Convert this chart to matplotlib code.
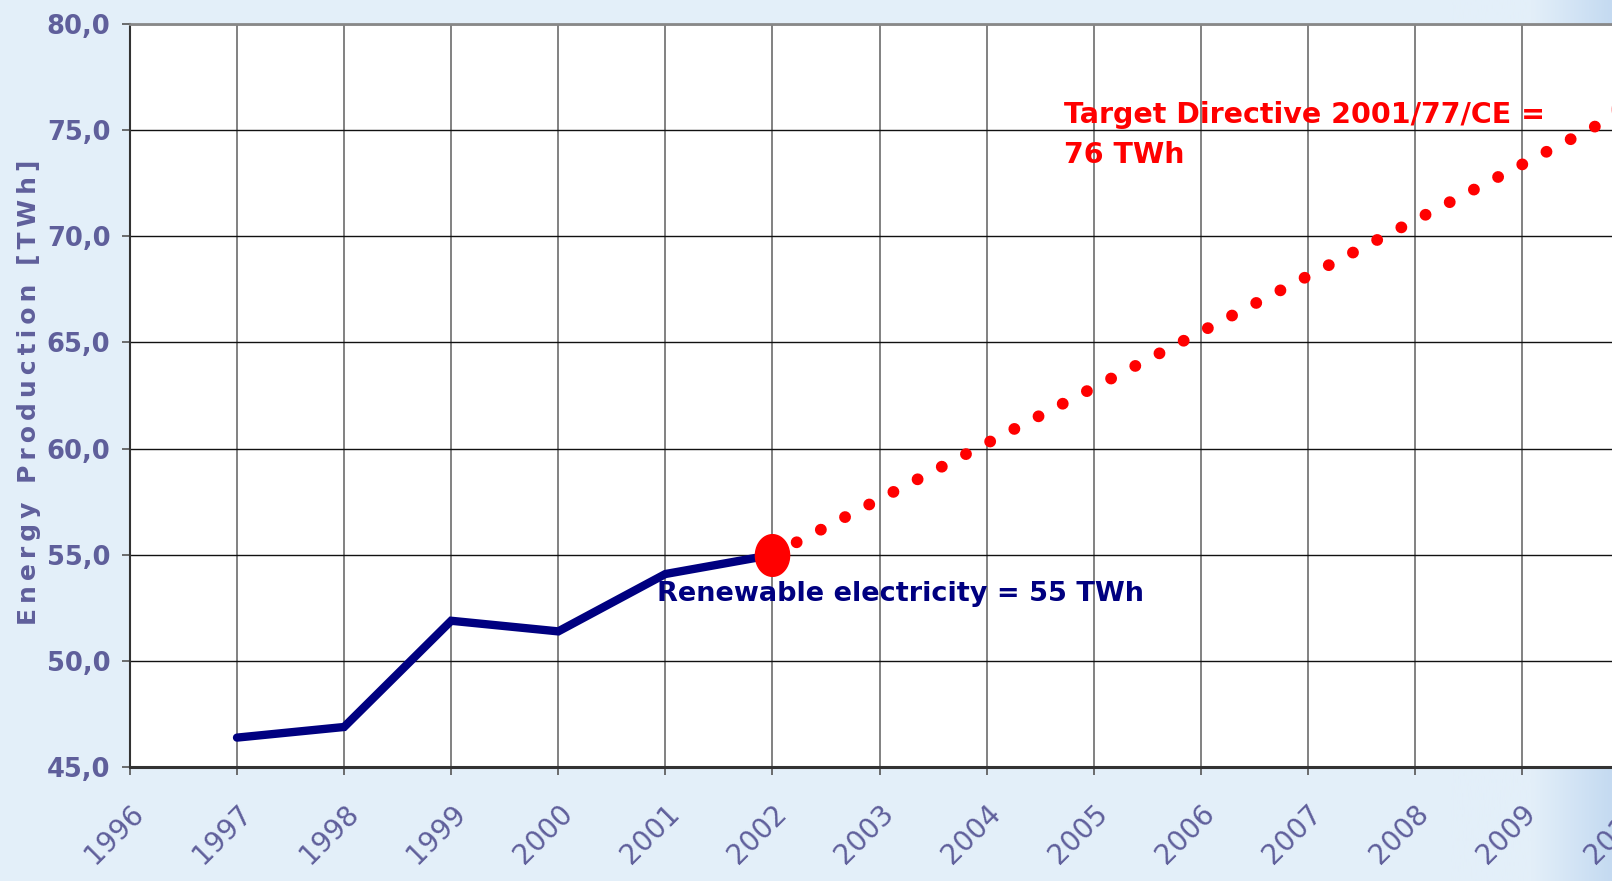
from matplotlib import pyplot as plt
from matplotlib.path import Path
from matplotlib.colors import LinearSegmentedColormap
import numpy as np

# measured series (TWh)
years = [1997, 1998, 1999, 2000, 2001, 2002]
production = [46.4, 46.9, 51.9, 51.4, 54.1, 55.0]

# target path: from last measured value to the directive target
target_years = [2002, 2010]
target_values = [55.0, 76.0]

x_ticks = list(range(1996, 2011))
y_ticks = [45, 50, 55, 60, 65, 70, 75, 80]

label_color = '#5f5f9b'
navy = '#000080'
red = '#ff0000'
bg = '#e3eff9'


def main():
    fig = plt.figure(figsize=(16.12, 8.81), dpi=100)
    fig.patch.set_facecolor(bg)

    # soft blue fade on the right edge of the slide background
    gax = fig.add_axes([0.9, 0, 0.1, 1], zorder=-1)
    cmap = LinearSegmentedColormap.from_list('fade', [bg, bg, '#c4daf1'])
    gax.imshow(np.linspace(0, 1, 100)[None, :], aspect='auto', cmap=cmap,
               extent=[0, 1, 0, 1])
    gax.axis('off')

    # axes run past the right edge, as in the cropped original
    ax = fig.add_axes([0.0806, 0.129, 0.93, 0.844])
    ax.set_facecolor('white')

    ax.set_xlim(1996, 2010)
    ax.set_ylim(45, 80)

    ax.set_xticks(x_ticks)
    ax.set_xticklabels([str(y) for y in x_ticks], rotation=45, ha='right',
                       rotation_mode='anchor', fontsize=20, color=label_color)
    ax.set_yticks(y_ticks)
    ax.set_yticklabels([('%.1f' % v).replace('.', ',') for v in y_ticks],
                       fontsize=18.5, fontweight='bold', color=label_color)
    ax.yaxis.set_tick_params(pad=8)
    ax.xaxis.set_tick_params(pad=17)

    ax.tick_params(axis='both', direction='out', length=6, width=1.2, color='#555555')

    # grid: grey verticals, black horizontals
    ax.grid(axis='x', color='#777777', linewidth=1.3)
    ax.grid(axis='y', color='#111111', linewidth=1.0)
    ax.set_axisbelow(True)

    ax.spines['right'].set_visible(False)
    ax.spines['top'].set_color('#888888')
    ax.spines['top'].set_linewidth(2)
    ax.spines['left'].set_color('#333333')
    ax.spines['left'].set_linewidth(1.5)
    ax.spines['bottom'].set_color('#333333')
    ax.spines['bottom'].set_linewidth(2.2)

    # dotted target line
    ax.plot(target_years, target_values, color=red, linewidth=8.5,
            linestyle=(0.0, (0.01, 2.3)), dash_capstyle='round', zorder=3)

    # measured line
    ax.plot(years, production, color=navy, linewidth=6, solid_capstyle='round',
            solid_joinstyle='miter', zorder=4)

    # slightly tall oval markers at both ends, on top of the blue line end
    t = np.linspace(0, 2 * np.pi, 60)
    oval = Path(np.column_stack([np.cos(t) * 0.82, np.sin(t)]))
    ax.plot(target_years, target_values, linestyle='none', marker=oval,
            markersize=30, color=red, zorder=5, clip_on=False)

    ax.text(2004.72, 76.35, 'Target Directive 2001/77/CE =\n76 TWh', color=red,
            fontsize=20.5, fontweight='bold', va='top', ha='left', linespacing=1.55,
            zorder=6)
    ax.text(2000.92, 53.75, 'Renewable electricity = 55 TWh', color=navy,
            fontsize=19.5, fontweight='bold', va='top', ha='left', zorder=6)

    ylab = '\u2009'.join('Energy Production [TWh]')
    fig.text(0.018, 0.555, ylab, rotation=90, va='center', ha='center',
             fontsize=18, fontweight='bold', color=label_color)

    plt.savefig('out.png', dpi=100, facecolor=fig.get_facecolor())


if __name__ == "__main__":
    main()
